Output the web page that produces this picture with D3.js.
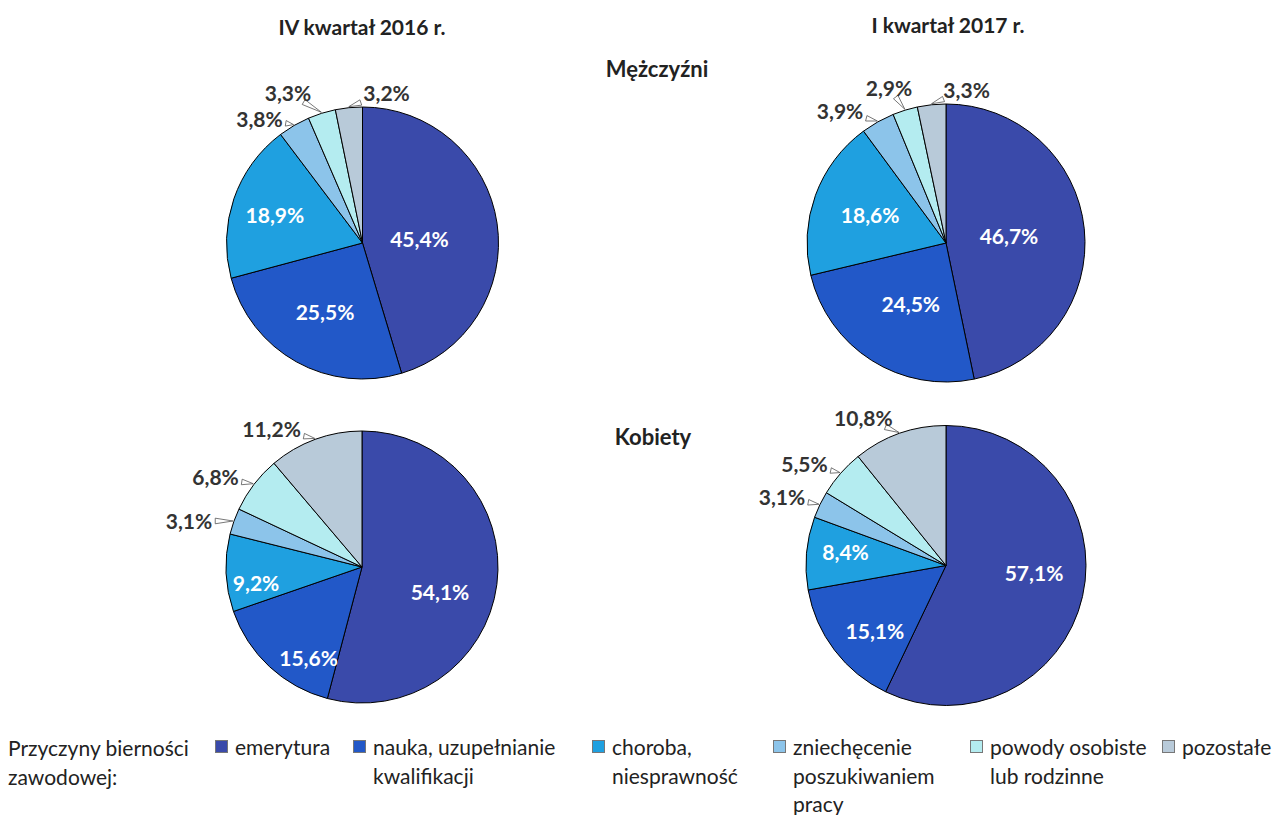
<!DOCTYPE html>
<html>
<head>
<meta charset="utf-8">
<script src="https://cdn.jsdelivr.net/npm/d3@7"></script>
<style>
  body { margin: 0; background: #fff; }
  svg { display: block; font-family: Lato, "Open Sans", sans-serif; }
</style>
</head>
<body>
<div id="chart"></div>
<script>
// data
const categories = [
    ["emerytura"],
    ["nauka, uzupełnianie", "kwalifikacji"],
    ["choroba,", "niesprawność"],
    ["zniechęcenie", "poszukiwaniem", "pracy"],
    ["powody osobiste", "lub rodzinne"],
    ["pozostałe"]
];
const periods = ["IV kwartał 2016 r.", "I kwartał 2017 r."];
const groups = ["Mężczyźni", "Kobiety"];
const legendTitle = ["Przyczyny bierności", "zawodowej:"];
const men2016 = [45.4, 25.5, 18.9, 3.8, 3.3, 3.2];
const men2017 = [46.7, 24.5, 18.6, 3.9, 2.9, 3.3];
const women2016 = [54.1, 15.6, 9.2, 3.1, 6.8, 11.2];
const women2017 = [57.1, 15.1, 8.4, 3.1, 5.5, 10.8];

const colors = ["#3a4aaa", "#2258c8", "#1fa0e0", "#8cc4ea", "#b4ecf0", "#b8cad9"];

(function() {
    let w = 1281;
    let h = 815;

    let svg = d3.select("#chart")
        .append("svg")
        .attr("width", w)
        .attr("height", h);

    let color = d3.scaleOrdinal().domain(d3.range(6)).range(colors);
    let fmt = (v) => d3.format(".1f")(v).replace(".", ",") + "%";

    // layout of the four pies: centre, radius, label placement
    // inside: [radius fraction, angle nudge in deg], outside: [dx, dy] from the arc point
    let pies = [
        {values: men2016, cx: 362.5, cy: 243, r: 136,
            inside: [[0.42, 4.4], [0.577, -0.6], [0.676, -1.3]],
            outside: [[-34.6, -6.5], [-33.8, -20.2], [37.7, -14.2]]},
        {values: men2017, cx: 946, cy: 243, r: 139,
            inside: [[0.456, -0.5], [0.51, -2.6], [0.58, -0.4]],
            outside: [[-37.8, -10], [-16.1, -22.1], [35, -14.7]]},
        {values: women2016, cx: 362, cy: 567, r: 136,
            inside: [[0.602, 10.4], [0.776, -12.4], [0.788, -6.1]],
            outside: [[-44.9, -0.4], [-38.5, -6.4], [-43.6, -9.8]]},
        {values: women2017, cx: 946, cy: 565.5, r: 140,
            inside: [[0.631, -7.9], [0.695, -5.8], [0.723, 2.1]],
            outside: [[-37.9, -7.2], [-36.2, -8.7], [-36, -15.5]]}
    ];

    let pie = d3.pie().sort(null).value((d) => d);
    let labelSize = 21;

    pies.forEach((p) => {
        let g = svg.append("g").attr("transform", "translate(" + p.cx + "," + p.cy + ")");
        let arc = d3.arc().innerRadius(0).outerRadius(p.r);
        let slices = pie(p.values);

        g.selectAll("path.slice")
            .data(slices)
            .enter()
            .append("path")
            .attr("class", "slice")
            .attr("d", arc)
            .attr("fill", (d, i) => color(i))
            .attr("stroke", "#000")
            .attr("stroke-width", 1)
            .attr("stroke-linejoin", "round");

        // big slices, white label inside
        slices.slice(0, 3).forEach((d, i) => {
            let a = (d.startAngle + d.endAngle) / 2 + p.inside[i][1] * Math.PI / 180;
            let rr = p.r * p.inside[i][0];
            g.append("text")
                .attr("x", rr * Math.sin(a))
                .attr("y", -rr * Math.cos(a))
                .attr("dy", "0.36em")
                .attr("text-anchor", "middle")
                .attr("fill", "#fff")
                .attr("font-weight", "bold")
                .attr("font-size", labelSize)
                .text(fmt(d.data));
        });

        // small slices, label outside with a wedge callout
        slices.slice(3).forEach((d, j) => {
            let a = (d.startAngle + d.endAngle) / 2;
            let tx = (p.r + 1) * Math.sin(a);
            let ty = -(p.r + 1) * Math.cos(a);
            let lx = p.r * Math.sin(a) + p.outside[j][0];
            let ly = -p.r * Math.cos(a) + p.outside[j][1];

            let label = g.append("text")
                .attr("x", lx)
                .attr("y", ly)
                .attr("dy", "0.36em")
                .attr("text-anchor", "middle")
                .attr("fill", "#333")
                .attr("font-weight", "bold")
                .attr("font-size", labelSize)
                .text(fmt(d.data));

            // the wedge runs from the slice edge to where it enters the label's box
            let tw = label.node().getComputedTextLength();
            let x0 = lx - tw / 2 - 3, x1 = lx + tw / 2 + 3;
            let y0 = ly - 9, y1 = ly + 9;
            let dx = lx - tx, dy = ly - ty;
            let t = 0;
            if (dx !== 0) t = Math.max(t, ((dx > 0 ? x0 : x1) - tx) / dx);
            if (dy !== 0) t = Math.max(t, ((dy > 0 ? y0 : y1) - ty) / dy);
            t = Math.min(t, 1);
            let bx = tx + dx * t;
            let by = ty + dy * t;

            let len = Math.hypot(bx - tx, by - ty) || 1;
            let nx = -(by - ty) / len * 2.8;
            let ny = (bx - tx) / len * 2.8;
            g.insert("path", "text")
                .attr("d", "M" + tx + "," + ty +
                    "L" + (bx + nx) + "," + (by + ny) +
                    "L" + (bx - nx) + "," + (by - ny) + "Z")
                .attr("fill", "#fff")
                .attr("stroke", "#555")
                .attr("stroke-width", 0.8);
        });
    });

    // titles
    let titleX = [362, 948];
    let titleY = [35, 33];
    periods.forEach((t, i) => {
        svg.append("text")
            .attr("x", titleX[i])
            .attr("y", titleY[i])
            .attr("text-anchor", "middle")
            .attr("font-weight", "bold")
            .attr("font-size", 21)
            .attr("fill", "#222")
            .text(t);
    });

    let groupX = [657, 653];
    let groupY = [77, 445];
    groups.forEach((t, i) => {
        svg.append("text")
            .attr("x", groupX[i])
            .attr("y", groupY[i])
            .attr("text-anchor", "middle")
            .attr("font-weight", "bold")
            .attr("font-size", 22)
            .attr("fill", "#222")
            .text(t);
    });

    // legend
    let lineH = 28.5;
    let legend = svg.append("g").attr("font-size", 21).attr("fill", "#222");
    legend.selectAll("text.title")
        .data(legendTitle)
        .enter()
        .append("text")
        .attr("class", "title")
        .attr("x", 8)
        .attr("y", (d, i) => 756 + i * lineH)
        .text((d) => d);

    let itemX = [215, 353, 592, 773, 970, 1162];
    categories.forEach((lines, i) => {
        let it = legend.append("g").attr("transform", "translate(" + itemX[i] + ",0)");
        it.append("rect")
            .attr("x", 0.5)
            .attr("y", 740.5)
            .attr("width", 12)
            .attr("height", 12)
            .attr("fill", color(i))
            .attr("stroke", "#777")
            .attr("stroke-width", 1);
        it.selectAll("text")
            .data(lines)
            .enter()
            .append("text")
            .attr("x", 20)
            .attr("y", (d, k) => 755 + k * lineH)
            .text((d) => d);
    });
})();
</script>
</body>
</html>
